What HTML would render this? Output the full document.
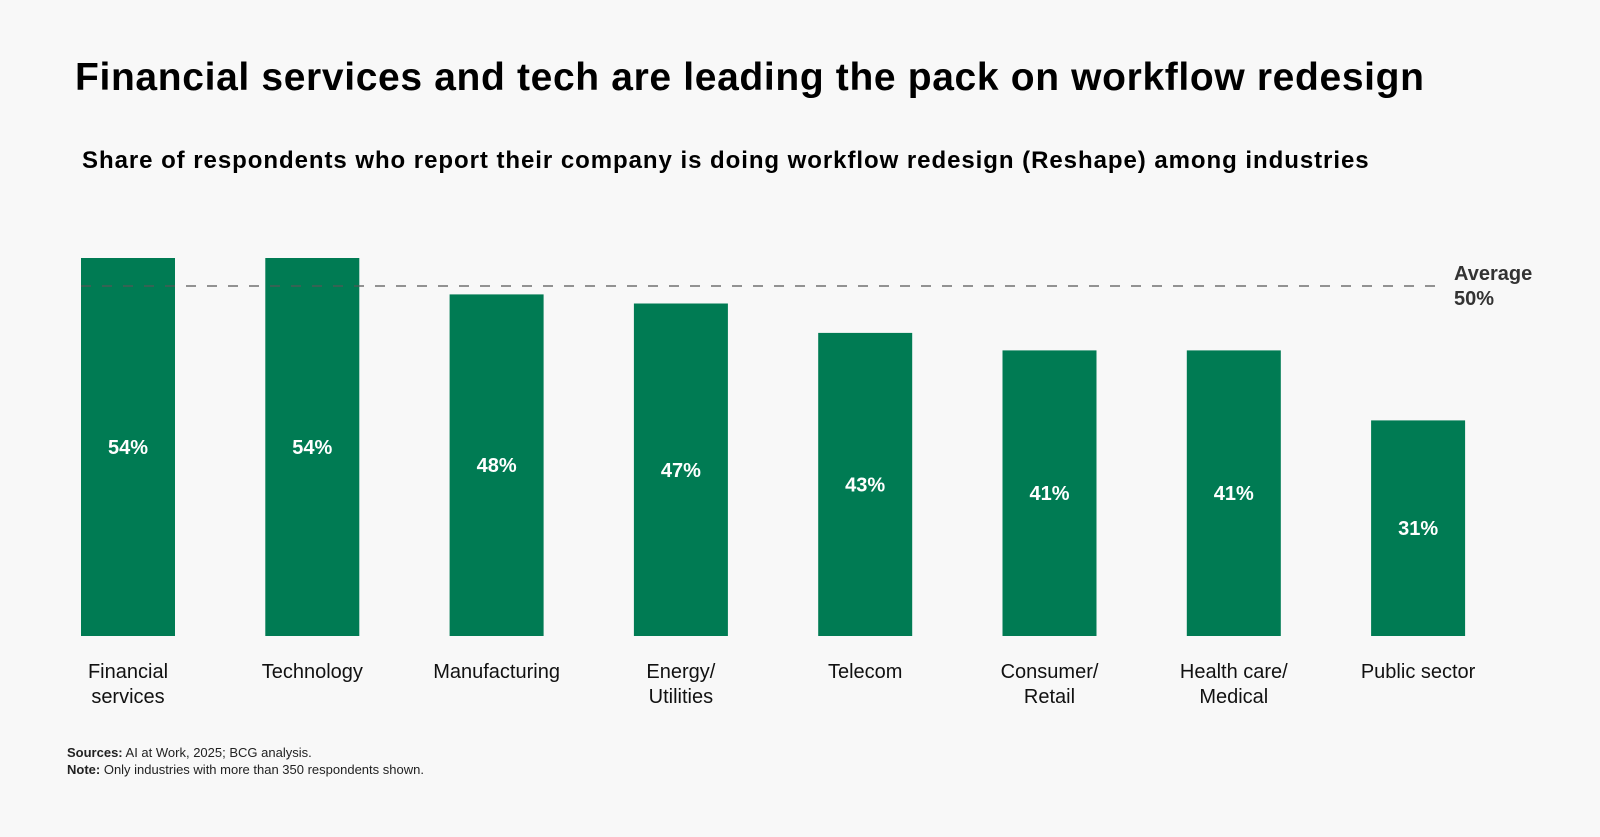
<!DOCTYPE html>
<html><head><meta charset="utf-8"><style>
body{margin:0;width:1600px;height:837px;background:#f8f8f8;font-family:"Liberation Sans",sans-serif;color:#000;position:relative;overflow:hidden}
.t{position:absolute;white-space:nowrap}
</style></head><body>
<div class="t" style="left:75px;top:56px;font-size:39px;font-weight:bold;letter-spacing:0.65px">Financial services and tech are leading the pack on workflow redesign</div>
<div class="t" style="left:82px;top:147px;font-size:24px;font-weight:bold;letter-spacing:0.95px">Share of respondents who report their company is doing workflow redesign (Reshape) among industries</div>
<svg id="chart" width="1600" height="837" style="position:absolute;left:0;top:0"></svg>
<div class="t" style="left:67px;top:745px;font-size:13px;color:#222"><b>Sources:</b> AI at Work, 2025; BCG analysis.</div>
<div class="t" style="left:67px;top:762px;font-size:13px;color:#222"><b>Note:</b> Only industries with more than 350 respondents shown.</div>
<script>
const categories=[["Financial","services"],["Technology"],["Manufacturing"],["Energy/","Utilities"],["Telecom"],["Consumer/","Retail"],["Health care/","Medical"],["Public sector"]];
const values=[54,54,48.8,47.5,43.3,40.8,40.8,30.8];
const labels=["54%","54%","48%","47%","43%","41%","41%","31%"];
const average=50;
const svg=document.getElementById('chart');
const NS='http://www.w3.org/2000/svg';
const base=636,perPct=7.0,x0=81,step=184.3,bw=94;
const y=v=>base-v*perPct;
const x=i=>x0+i*step;
function mk(t,a){const e=document.createElementNS(NS,t);for(const k in a)e.setAttribute(k,a[k]);svg.appendChild(e);return e;}
values.forEach((v,i)=>{
 const r=mk('rect',{x:x(i),y:y(v),width:bw,height:base-y(v),fill:'#007b53'});
 
 
 const t=mk('text',{x:x(i)+bw/2,y:(y(v)+base)/2+7,'text-anchor':'middle',fill:'#fff','font-size':20,'font-weight':'bold','font-family':'Liberation Sans'});
 t.textContent=labels[i];
 
 
 categories[i].forEach((ln,j)=>{
  const c=mk('text',{x:x(i)+bw/2,y:678+j*25,'text-anchor':'middle',fill:'#111','font-size':20,'font-family':'Liberation Sans'});
  c.textContent=ln;
  
  
 });
});
const l=mk('line',{x1:81,x2:1437,y1:y(average),y2:y(average),stroke:'#555','stroke-width':1.3,'stroke-dasharray':'10 11'});


['Average',average+'%'].forEach((s,j)=>{
 const t=mk('text',{x:1454,y:y(average)-6+j*25,fill:'#333','font-size':20,'font-weight':'bold','font-family':'Liberation Sans'});
 t.textContent=s;
 
 
});
</script>
</body></html>
